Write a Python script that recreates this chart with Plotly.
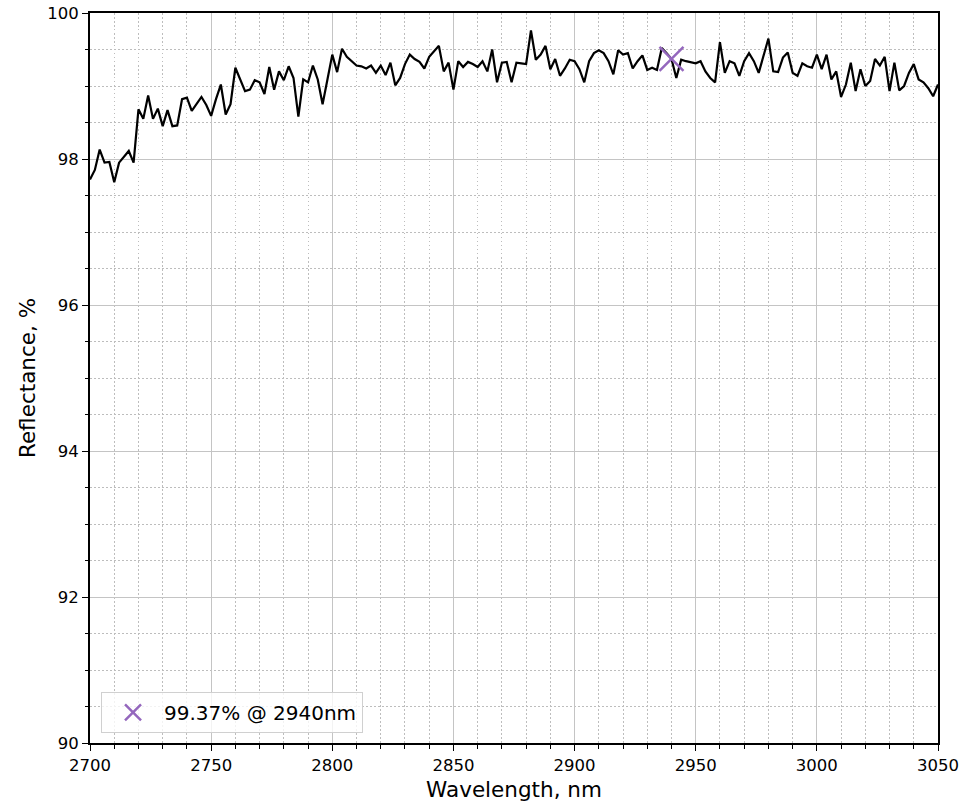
import plotly.graph_objects as go

wavelength = list(range(2700, 3051, 2))
reflectance = [
    97.72, 97.85, 98.13, 97.95, 97.96, 97.68, 97.95, 98.03, 98.11, 97.95,
    98.68, 98.55, 98.87, 98.55, 98.69, 98.45, 98.67, 98.45, 98.46, 98.82,
    98.84, 98.66, 98.75, 98.85, 98.74, 98.59, 98.82, 99.02, 98.61, 98.75,
    99.25, 99.08, 98.93, 98.95, 99.08, 99.05, 98.89, 99.26, 98.95, 99.20,
    99.08, 99.27, 99.11, 98.58, 99.09, 99.05, 99.28, 99.09, 98.75, 99.09,
    99.43, 99.19, 99.51, 99.40, 99.34, 99.28, 99.27, 99.24, 99.28, 99.18,
    99.28, 99.15, 99.32, 99.01, 99.11, 99.30, 99.43, 99.37, 99.33, 99.24,
    99.40, 99.48, 99.55, 99.20, 99.32, 98.95, 99.34, 99.26, 99.33, 99.30,
    99.26, 99.34, 99.20, 99.50, 99.05, 99.32, 99.33, 99.05, 99.32, 99.31,
    99.30, 99.76, 99.36, 99.43, 99.55, 99.23, 99.37, 99.14, 99.24, 99.36,
    99.34, 99.23, 99.05, 99.34, 99.45, 99.49, 99.45, 99.34, 99.16, 99.49,
    99.43, 99.45, 99.24, 99.34, 99.42, 99.22, 99.25, 99.22, 99.52, 99.45,
    99.37, 99.11, 99.36, 99.34, 99.32, 99.31, 99.34, 99.20, 99.11, 99.05,
    99.60, 99.18, 99.34, 99.31, 99.14, 99.34, 99.45, 99.34, 99.18, 99.42,
    99.65, 99.20, 99.19, 99.39, 99.46, 99.18, 99.14, 99.31, 99.27, 99.25,
    99.43, 99.23, 99.43, 99.09, 99.20, 98.85, 99.02, 99.32, 98.93, 99.23,
    99.00, 99.07, 99.37, 99.28, 99.40, 98.93, 99.32, 98.94, 99.00, 99.18,
    99.30, 99.09, 99.05, 98.97, 98.86, 99.02,
]

marker_x = [2940]
marker_y = [99.37]
marker_label = "99.37% @ 2940nm"

x_ticks = [2700, 2750, 2800, 2850, 2900, 2950, 3000, 3050]
y_ticks = [90, 92, 94, 96, 98, 100]

fig = go.Figure()
fig.add_trace(go.Scatter(
    x=wavelength, y=reflectance, mode="lines",
    line=dict(color="black", width=2.2), showlegend=False,
))
fig.add_trace(go.Scatter(
    x=marker_x, y=marker_y, mode="markers", name=marker_label,
    marker=dict(symbol="x-thin", size=24, color="#9467bd",
                line=dict(color="#9467bd", width=2.5)),
))

font = "DejaVu Sans, Liberation Sans, sans-serif"
dotted = "1.5px,2.5px"
axis_common = dict(
    showline=True, mirror=True, linecolor="black", linewidth=2,
    ticks="outside", ticklen=6, tickwidth=1.3, tickcolor="black",
    showgrid=True, gridcolor="#c4c4c4", gridwidth=1.3,
    tickfont=dict(size=16.5, color="black", family=font),
    zeroline=False, automargin=False, ticklabeloverflow="allow",
)
fig.update_layout(
    width=962, height=804,
    margin=dict(l=90, r=24, t=13, b=61),
    paper_bgcolor="white", plot_bgcolor="white",
    font=dict(family=font, color="black"),
    xaxis=dict(
        range=[2700, 3050], tickvals=x_ticks,
        title=dict(text="Wavelength, nm", font=dict(size=21.5), standoff=8),
        minor=dict(dtick=10, tick0=2700, showgrid=True, griddash=dotted,
                   gridcolor="#bdbdbd", gridwidth=1.3, ticks="outside",
                   ticklen=3.5, tickcolor="black"),
        **axis_common,
    ),
    yaxis=dict(
        range=[90, 100], tickvals=y_ticks,
        title=dict(text="Reflectance, %", font=dict(size=21.5), standoff=6),
        minor=dict(dtick=0.5, tick0=90, showgrid=True, griddash=dotted,
                   gridcolor="#bdbdbd", gridwidth=1.3, ticks="outside",
                   ticklen=3.5, tickcolor="black"),
        **axis_common,
    ),
    legend=dict(
        x=0.013, y=0.014, xanchor="left", yanchor="bottom",
        bgcolor="rgba(255,255,255,0.8)", bordercolor="#d0d0d0", borderwidth=1,
        font=dict(size=20, family=font),
        itemsizing="trace", itemwidth=52,
    ),
)
fig.write_html("out.html", config={"displayModeBar": False},
               post_script="document.body.style.margin='0';")
